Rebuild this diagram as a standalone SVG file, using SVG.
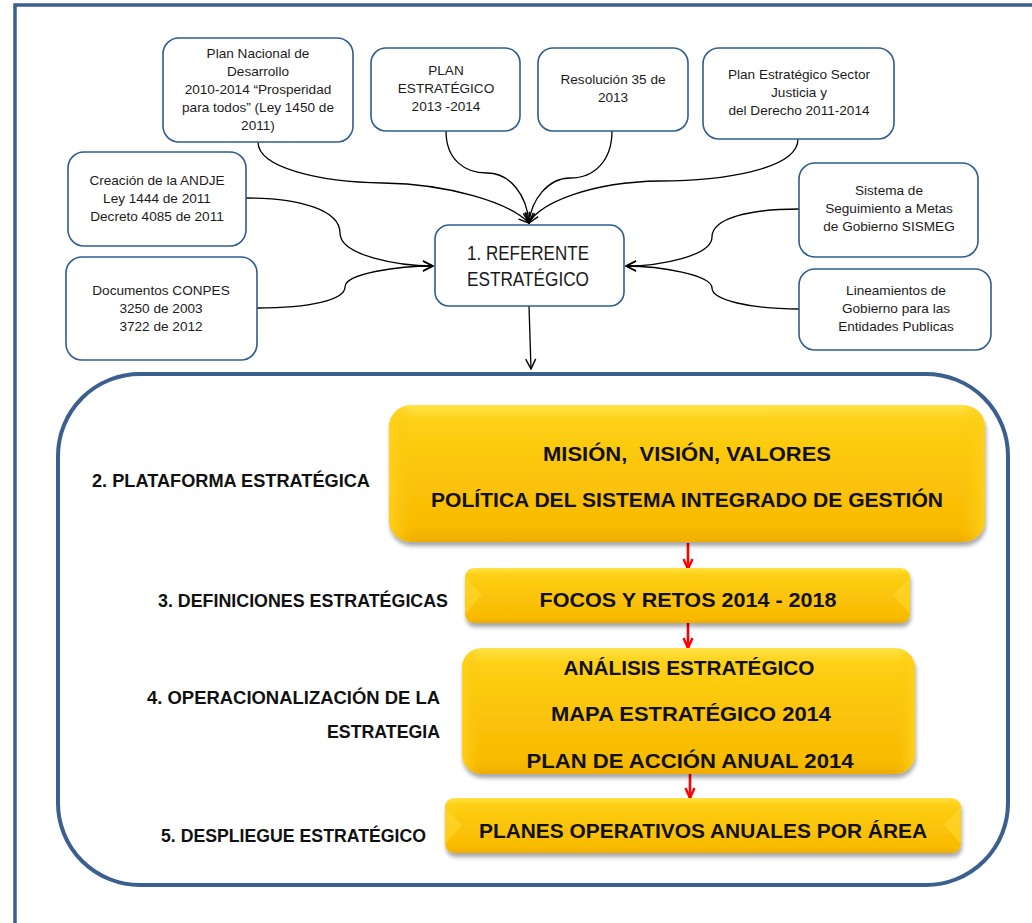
<svg xmlns="http://www.w3.org/2000/svg" width="1032" height="923" viewBox="0 0 1032 923">
  <defs>
    <style>
      .node { fill: #ffffff; stroke: #2f5d8e; stroke-width: 1.6; }
      .ntext { font-family: "Liberation Sans", Arial, sans-serif; font-size: 13.6px; fill: #1c1c1c; text-anchor: middle; }
      .ctext { font-family: "Liberation Sans", Arial, sans-serif; font-size: 20px; fill: #1a1a1a; text-anchor: middle; }
      .conn { fill: none; stroke: #000000; stroke-width: 1.3; }
      .red { fill: none; stroke: #ff0000; stroke-width: 2.6; }
      .label { font-family: "Liberation Sans", Arial, sans-serif; font-weight: bold; font-size: 19px; fill: #111111; }
      .ytext { font-family: "Liberation Sans", Arial, sans-serif; font-weight: bold; font-size: 21px; fill: #111111; text-anchor: middle; }
      .frame { fill: none; stroke: #3b5f8f; stroke-width: 3.5; }
      .panel { fill: none; stroke: #3b5f8f; stroke-width: 4; }
    </style>
    <linearGradient id="gold" x1="0" y1="0" x2="0" y2="1">
      <stop offset="0" stop-color="#ffe347"/>
      <stop offset="0.12" stop-color="#fdd015"/>
      <stop offset="0.5" stop-color="#fbc40a"/>
      <stop offset="0.9" stop-color="#f8bb02"/>
      <stop offset="1" stop-color="#efad00"/>
    </linearGradient>
    <linearGradient id="goldSide" x1="0" y1="0" x2="1" y2="0">
      <stop offset="0" stop-color="#ffd21c" stop-opacity="0.9"/>
      <stop offset="0.04" stop-color="#fbc40a" stop-opacity="0"/>
      <stop offset="0.96" stop-color="#fbc40a" stop-opacity="0"/>
      <stop offset="1" stop-color="#ffd21c" stop-opacity="0.9"/>
    </linearGradient>
    <filter id="shadow" x="-5%" y="-10%" width="110%" height="130%">
      <feGaussianBlur in="SourceAlpha" stdDeviation="2.2"/>
      <feOffset dx="1" dy="4" result="b"/>
      <feComponentTransfer><feFuncA type="linear" slope="0.35"/></feComponentTransfer>
      <feMerge><feMergeNode/><feMergeNode in="SourceGraphic"/></feMerge>
    </filter>
    <marker id="open" viewBox="0 0 12 12" refX="11" refY="6" markerWidth="12" markerHeight="12" markerUnits="userSpaceOnUse" orient="auto">
      <path d="M1,1 L11,6 L1,11" fill="none" stroke="#000000" stroke-width="1.4"/>
    </marker>
    <marker id="redhead" viewBox="0 0 12 12" refX="11" refY="6" markerWidth="12" markerHeight="12" markerUnits="userSpaceOnUse" orient="auto">
      <path d="M1,1.5 L11,6 L1,10.5" fill="none" stroke="#ff0000" stroke-width="2.4"/>
    </marker>
  </defs>

  <rect width="1032" height="923" fill="#ffffff"/>

  <!-- page frame -->
  <path class="frame" d="M15,923 V5 H1032"/>

  <!-- rounded panel holding the strategy stages -->
  <rect class="panel" x="58" y="374" width="950" height="511" rx="82" ry="82"/>

  <!-- connectors -->
  <g id="connectors">
    <path class="conn" marker-end="url(#open)" d="M258,142 C258,168 320,182 383,183 C450,184 510,203 529,223"/>
    <path class="conn" marker-end="url(#open)" d="M446,131 C446,160 465,173 487,173 C510,173 527,195 529,223"/>
    <path class="conn" marker-end="url(#open)" d="M612,131 C612,160 595,178 570,178 C548,178 531,200 529,223"/>
    <path class="conn" marker-end="url(#open)" d="M798,139 C798,170 720,181 660,181 C590,182 540,203 529,223"/>
    <path class="conn" marker-end="url(#open)" d="M246,198 C300,198 340,210 340,233 C340,256 400,266 433,266"/>
    <path class="conn" marker-end="url(#open)" d="M257,308 C310,308 345,300 345,287 C345,273 400,266 433,266"/>
    <path class="conn" marker-end="url(#open)" d="M799,209 C750,209 712,218 712,237 C712,256 660,266 626,266"/>
    <path class="conn" marker-end="url(#open)" d="M799,309 C750,309 712,300 712,288 C712,275 660,266 626,266"/>
    <path class="conn" marker-end="url(#open)" d="M529,306 L531,369"/>
    <path class="red" marker-end="url(#redhead)" d="M688,543 L688,569"/>
    <path class="red" marker-end="url(#redhead)" d="M688,623 L688,648"/>
    <path class="red" marker-end="url(#redhead)" d="M690,773 L690,798"/>
  </g>

  <!-- source documents -->
  <g id="plan-nacional">
    <rect class="node" x="163" y="38" width="190" height="104" rx="16"/>
    <text class="ntext" x="258" y="58">Plan Nacional de</text>
    <text class="ntext" x="258" y="76">Desarrollo</text>
    <text class="ntext" x="258" y="94">2010-2014 “Prosperidad</text>
    <text class="ntext" x="258" y="112">para todos” (Ley 1450 de</text>
    <text class="ntext" x="258" y="130">2011)</text>
  </g>
  <g id="plan-estrategico">
    <rect class="node" x="371" y="48" width="149" height="83" rx="15"/>
    <text class="ntext" x="446" y="75">PLAN</text>
    <text class="ntext" x="446" y="93">ESTRATÉGICO</text>
    <text class="ntext" x="446" y="111">2013 -2014</text>
  </g>
  <g id="resolucion">
    <rect class="node" x="538" y="48" width="150" height="83" rx="15"/>
    <text class="ntext" x="613" y="84">Resolución 35 de</text>
    <text class="ntext" x="613" y="102">2013</text>
  </g>
  <g id="plan-sector">
    <rect class="node" x="703" y="48" width="191" height="91" rx="16"/>
    <text class="ntext" x="799" y="79">Plan Estratégico Sector</text>
    <text class="ntext" x="799" y="97">Justicia y</text>
    <text class="ntext" x="799" y="115">del Derecho 2011-2014</text>
  </g>
  <g id="creacion-andje">
    <rect class="node" x="68" y="152" width="178" height="94" rx="16"/>
    <text class="ntext" x="157" y="185">Creación de la ANDJE</text>
    <text class="ntext" x="157" y="203">Ley 1444 de 2011</text>
    <text class="ntext" x="157" y="221">Decreto 4085 de 2011</text>
  </g>
  <g id="conpes">
    <rect class="node" x="66" y="257" width="191" height="103" rx="16"/>
    <text class="ntext" x="161" y="295">Documentos CONPES</text>
    <text class="ntext" x="161" y="313">3250 de 2003</text>
    <text class="ntext" x="161" y="331">3722 de 2012</text>
  </g>
  <g id="sismeg">
    <rect class="node" x="799" y="163" width="179" height="94" rx="16"/>
    <text class="ntext" x="889" y="195">Sistema de</text>
    <text class="ntext" x="889" y="213">Seguimiento a Metas</text>
    <text class="ntext" x="889" y="231">de Gobierno SISMEG</text>
  </g>
  <g id="lineamientos">
    <rect class="node" x="799" y="269" width="192" height="81" rx="16"/>
    <text class="ntext" x="896" y="295">Lineamientos de</text>
    <text class="ntext" x="896" y="313">Gobierno para las</text>
    <text class="ntext" x="896" y="331">Entidades Publicas</text>
  </g>

  <!-- central node -->
  <g id="referente">
    <rect class="node" x="435" y="225" width="189" height="81" rx="14"/>
    <text class="ctext" x="528" y="260" textLength="122" lengthAdjust="spacingAndGlyphs">1. REFERENTE</text>
    <text class="ctext" x="528" y="286" textLength="122" lengthAdjust="spacingAndGlyphs">ESTRATÉGICO</text>
  </g>

  <!-- stage labels -->
  <g id="label-2">
    <text class="label" x="92" y="487" textLength="278" lengthAdjust="spacingAndGlyphs">2. PLATAFORMA ESTRATÉGICA</text>
  </g>
  <g id="label-3">
    <text class="label" x="158" y="607" textLength="290" lengthAdjust="spacingAndGlyphs">3. DEFINICIONES ESTRATÉGICAS</text>
  </g>
  <g id="label-4">
    <text class="label" x="147" y="704" textLength="293" lengthAdjust="spacingAndGlyphs">4. OPERACIONALIZACIÓN DE LA</text>
    <text class="label" x="327" y="738" textLength="113" lengthAdjust="spacingAndGlyphs">ESTRATEGIA</text>
  </g>
  <g id="label-5">
    <text class="label" x="161" y="842" textLength="265" lengthAdjust="spacingAndGlyphs">5. DESPLIEGUE ESTRATÉGICO</text>
  </g>

  <!-- gold stage boxes -->
  <g id="plataforma">
    <g filter="url(#shadow)">
      <rect x="389" y="405" width="596" height="137" rx="22" fill="url(#gold)"/>
      <rect x="389" y="405" width="596" height="137" rx="22" fill="url(#goldSide)"/>
    </g>
    <text class="ytext" x="687" y="461" textLength="288" lengthAdjust="spacingAndGlyphs" xml:space="preserve">MISIÓN,  VISIÓN, VALORES</text>
    <text class="ytext" x="687" y="507" textLength="512" lengthAdjust="spacingAndGlyphs">POLÍTICA DEL SISTEMA INTEGRADO DE GESTIÓN</text>
  </g>
  <g id="focos">
    <g filter="url(#shadow)">
      <rect x="465" y="568" width="445" height="55" rx="9" fill="url(#gold)"/>
      <path d="M465,577 L482,595 L465,614 Z" fill="#ffd52a" opacity="0.7"/>
      <path d="M910,577 L893,595 L910,614 Z" fill="#ffd52a" opacity="0.7"/>
    </g>
    <text class="ytext" x="688" y="607" textLength="297" lengthAdjust="spacingAndGlyphs">FOCOS Y RETOS 2014 - 2018</text>
  </g>
  <g id="operacionalizacion">
    <g filter="url(#shadow)">
      <rect x="462" y="648" width="453" height="126" rx="20" fill="url(#gold)"/>
      <rect x="462" y="648" width="453" height="126" rx="20" fill="url(#goldSide)"/>
    </g>
    <text class="ytext" x="689" y="675" textLength="251" lengthAdjust="spacingAndGlyphs">ANÁLISIS ESTRATÉGICO</text>
    <text class="ytext" x="691" y="721" textLength="280" lengthAdjust="spacingAndGlyphs">MAPA ESTRATÉGICO 2014</text>
    <text class="ytext" x="690" y="768" textLength="327" lengthAdjust="spacingAndGlyphs">PLAN DE ACCIÓN ANUAL 2014</text>
  </g>
  <g id="despliegue">
    <g filter="url(#shadow)">
      <rect x="445" y="798" width="516" height="55" rx="9" fill="url(#gold)"/>
      <path d="M445,807 L462,825 L445,844 Z" fill="#ffd52a" opacity="0.7"/>
      <path d="M961,807 L944,825 L961,844 Z" fill="#ffd52a" opacity="0.7"/>
    </g>
    <text class="ytext" x="703" y="838" textLength="448" lengthAdjust="spacingAndGlyphs">PLANES OPERATIVOS ANUALES POR ÁREA</text>
  </g>
</svg>
